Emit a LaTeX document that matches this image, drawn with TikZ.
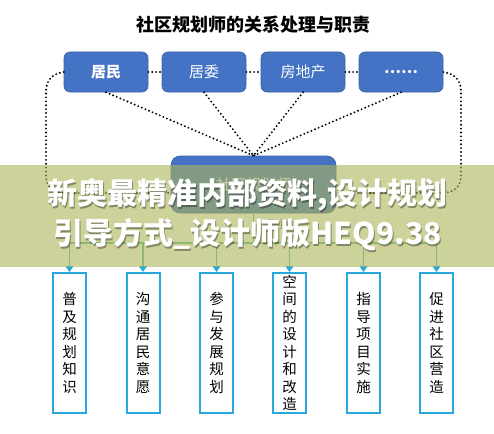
\documentclass[tikz,border=0pt]{standalone}
\usepackage{fontspec}
\setmainfont{Noto Sans CJK SC}
\newfontfamily\cjk{Noto Sans CJK SC}
\usetikzlibrary{arrows.meta}
\definecolor{boxblue}{RGB}{68,114,196}
\definecolor{cyanb}{RGB}{41,168,224}
\definecolor{lgreen}{RGB}{104,188,146}
\definecolor{banner}{RGB}{172,180,88}
\tikzset{
  topbox/.style={draw=boxblue!85!black, line width=0.6pt, fill=boxblue, rounded corners=6pt, minimum width=84pt, minimum height=40pt, inner sep=0pt, text=white, font=\cjk\fontsize{15}{15}\selectfont},
  centerbox/.style={draw=boxblue!85!black, line width=0.6pt, fill=boxblue, rounded corners=9pt, minimum width=165pt, minimum height=57pt, inner sep=0pt, text=white, font=\cjk\fontsize{15}{15}\selectfont},
  dutybox/.style={draw=cyanb, line width=2pt, fill=white, minimum width=33pt, minimum height=140pt, inner sep=0pt, align=center, font=\cjk\fontsize{14.5}{17.5}\selectfont},
  dotline/.style={line width=2.1pt, dash pattern=on 0pt off 3.9pt, line cap=round, black},
  gline/.style={draw=lgreen, line width=1.6pt},
  garrow/.style={draw=lgreen, line width=1.6pt, -{Triangle[length=6pt,width=8pt,fill=cyanb,color=cyanb]}},
  bannertext/.style={text=white, font=\cjk\bfseries\fontsize{30}{30}\selectfont},
  bannershadow/.style={text=black, opacity=0.35, font=\cjk\bfseries\fontsize{30}{30}\selectfont}
}
\begin{document}
\begin{tikzpicture}[x=1pt,y=-1pt]
\fill[white] (0,0) rectangle (494,433);
\useasboundingbox (0,0) rectangle (494,433);

\node[font=\cjk\bfseries\fontsize{18}{18}\selectfont] (title) at (253,25) {社区规划师的关系处理与职责};

\node[topbox] (jm) at (106,72) {\bfseries 居民};
\node[topbox] (jw) at (204,72) {居委};
\node[topbox] (fd) at (303,72) {房地产};
\node[topbox] (dd) at (401,72) {\bfseries ……};

\node[centerbox] (cx) at (253.5,184.5) {社区规划师};

\coordinate (lt) at (46,92);
\coordinate (lb) at (46,175);
\coordinate (lc) at (66,193);
\coordinate (le) at (171,193);
\coordinate (rt) at (461,92);
\coordinate (rb) at (461,175);
\coordinate (rc) at (441,193);
\coordinate (re) at (336,193);

\draw[dotline] (jm.east) -- (jw.west);
\draw[dotline] (jw.east) -- (fd.west);
\draw[dotline] (fd.east) -- (dd.west);
\draw[dotline] (jm.south) -- (cx.north);
\draw[dotline] (jw.south) -- (cx.north);
\draw[dotline] (fd.south) -- (cx.north);
\draw[dotline] (dd.south) -- (cx.north);
\draw[dotline] (jm.west) .. controls (52,74) and (46,80) .. (lt) -- (lb) .. controls (46,188) and (54,193) .. (lc) -- (le);
\draw[dotline] (dd.east) .. controls (455,74) and (461,80) .. (rt) -- (rb) .. controls (461,188) and (453,193) .. (rc) -- (re);

\node[dutybox] (d1) at (69.5,343) {普\\及\\规\\划\\知\\识};
\node[dutybox] (d2) at (143,343) {沟\\通\\居\\民\\意\\愿};
\node[dutybox] (d3) at (216.5,343) {参\\与\\发\\展\\规\\划};
\node[dutybox] (d4) at (289.5,343) {空\\间\\的\\设\\计\\和\\改\\造};
\node[dutybox] (d5) at (363.5,343) {指\\导\\项\\目\\实\\施};
\node[dutybox] (d6) at (436.5,343) {促\\进\\社\\区\\营\\造};

\coordinate (hm) at (253.5,243);
\coordinate (h1) at (69.5,243);
\coordinate (h2) at (143,243);
\coordinate (h3) at (216.5,243);
\coordinate (h4) at (289.5,243);
\coordinate (h5) at (363.5,243);
\coordinate (h6) at (436.5,243);
\draw[gline] (cx.south) -- (hm);
\draw[gline] (h1) -- (h6);
\foreach \i in {1,...,6} { \draw[garrow] (h\i) -- (d\i.north); }
\node[font=\cjk\fontsize{11}{11}\selectfont, text=black!75] (zz) at (279,224) {职责};

\fill[banner, opacity=0.6] (0,165) rectangle (494,267);
\node[bannershadow] at (248.5,196.5) {新奥最精准内部资料,设计规划};
\node[bannershadow] at (248.5,236.5) {引导方式\_设计师版HEQ9.38};
\node[bannertext] (b1) at (247.5,195) {新奥最精准内部资料,设计规划};
\node[bannertext] (b2) at (247.5,235) {引导方式\_设计师版HEQ9.38};
\end{tikzpicture}
\end{document}
